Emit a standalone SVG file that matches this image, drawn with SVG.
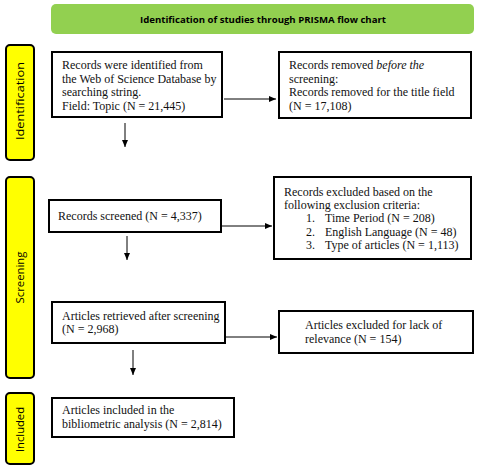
<svg xmlns="http://www.w3.org/2000/svg" width="480" height="470" viewBox="0 0 480 470">
<style>
.box{fill:#fff;stroke:#000;stroke-width:2}
.side{fill:#ffff00;stroke:#000;stroke-width:2}
.t{font-family:"Liberation Serif","Times New Roman",serif;font-size:12px;fill:#111}
.s{font-family:"Open Sans","Liberation Sans",sans-serif;font-size:11px;fill:#000}
.c{stroke:#000;stroke-width:1;fill:none}
</style>
<defs>
<marker id="ah" markerWidth="8" markerHeight="8" refX="7" refY="4" orient="auto" markerUnits="userSpaceOnUse">
<path d="M0,1 L7,4 L0,7 Z" fill="#000"/>
</marker>
</defs>
<rect width="480" height="470" fill="#fff"/>
<g id="title">
<rect x="51" y="4" width="423" height="30" rx="5" fill="#92d050"/>
<text x="263" y="23" text-anchor="middle" font-family="'Open Sans','Liberation Sans',sans-serif" font-size="9" font-weight="bold" textLength="246" lengthAdjust="spacingAndGlyphs">Identification of studies through PRISMA flow chart</text>
</g>
<g id="side-identification">
<rect class="side" x="6" y="45" width="28" height="115" rx="4"/>
<text class="s" transform="translate(24,101) rotate(-90)" text-anchor="middle" textLength="78" lengthAdjust="spacingAndGlyphs">Identification</text>
</g>
<g id="side-screening">
<rect class="side" x="6" y="177" width="28" height="201" rx="4"/>
<text class="s" transform="translate(24,277.5) rotate(-90)" text-anchor="middle" textLength="52" lengthAdjust="spacingAndGlyphs">Screening</text>
</g>
<g id="side-included">
<rect class="side" x="6" y="393" width="28" height="71" rx="4"/>
<text class="s" transform="translate(24,429.5) rotate(-90)" text-anchor="middle" textLength="45" lengthAdjust="spacingAndGlyphs">Included</text>
</g>
<g id="n1">
<rect class="box" x="52" y="52" width="170" height="65"/>
<text class="t" x="62" y="69">Records were identified from</text>
<text class="t" x="62" y="82.5">the Web of Science Database by</text>
<text class="t" x="62" y="96">searching string.</text>
<text class="t" x="62" y="109.5">Field: Topic (N = 21,445)</text>
</g>
<g id="n2">
<rect class="box" x="279" y="52" width="192" height="66"/>
<text class="t" x="289" y="69">Records removed <tspan font-style="italic">before the</tspan></text>
<text class="t" x="289" y="82.5">screening:</text>
<text class="t" x="289" y="96">Records removed for the title field</text>
<text class="t" x="289" y="109.5">(N = 17,108)</text>
</g>
<g id="n3">
<rect class="box" x="49" y="200" width="172" height="32"/>
<text class="t" x="58" y="220">Records screened (N = 4,337)</text>
</g>
<g id="n4">
<rect class="box" x="274" y="177" width="197" height="82"/>
<text class="t" x="284" y="195.5">Records excluded based on the</text>
<text class="t" x="284" y="208.5">following exclusion criteria:</text>
<text class="t" x="306" y="222">1.</text><text class="t" x="325" y="222">Time Period (N = 208)</text>
<text class="t" x="306" y="235.5">2.</text><text class="t" x="325" y="235.5">English Language (N = 48)</text>
<text class="t" x="306" y="249">3.</text><text class="t" x="325" y="249">Type of articles (N = 1,113)</text>
</g>
<g id="n5">
<rect class="box" x="52" y="302" width="173" height="41"/>
<text class="t" x="62" y="319.5">Articles retrieved after screening</text>
<text class="t" x="62" y="333">(N = 2,968)</text>
</g>
<g id="n6">
<rect class="box" x="279" y="311" width="194" height="42"/>
<text class="t" x="305" y="329">Articles excluded for lack of</text>
<text class="t" x="305" y="342.5">relevance (N = 154)</text>
</g>
<g id="n7">
<rect class="box" x="52" y="398" width="182" height="39"/>
<text class="t" x="62" y="414">Articles included in the</text>
<text class="t" x="62" y="428">bibliometric analysis (N = 2,814)</text>
</g>
<g id="connectors">
<line class="c" x1="224" y1="99" x2="276" y2="99" marker-end="url(#ah)"/>
<line class="c" x1="125" y1="123" x2="125" y2="147" marker-end="url(#ah)"/>
<line class="c" x1="222" y1="226" x2="272" y2="226" marker-end="url(#ah)"/>
<line class="c" x1="127" y1="236" x2="127" y2="260" marker-end="url(#ah)"/>
<line class="c" x1="226" y1="337" x2="277" y2="337" marker-end="url(#ah)"/>
<line class="c" x1="133" y1="350" x2="133" y2="375" marker-end="url(#ah)"/>
</g>
</svg>
